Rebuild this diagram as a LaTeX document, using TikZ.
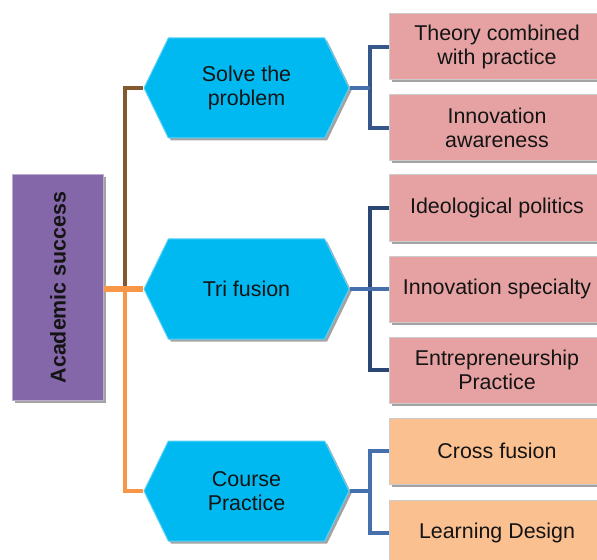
\documentclass[tikz,border=0pt]{standalone}
\usepackage{fontspec}
\setmainfont{Liberation Sans}
\usepackage{tikz}
\usetikzlibrary{positioning, calc, shapes.symbols, shadows}
\definecolor{RootPurple}{HTML}{8467A8}
\definecolor{HexCyan}{HTML}{00B9F1}
\definecolor{PinkBox}{HTML}{E6A2A2}
\definecolor{PeachBox}{HTML}{FAC090}
\definecolor{SpineOrange}{HTML}{F79646}
\definecolor{SpineBrown}{HTML}{84582E}
\definecolor{ForkBlue}{HTML}{4570AC}
\definecolor{ForkNavy}{HTML}{2C4674}

\begin{document}
\begin{tikzpicture}[
      x=1bp, y=-1bp,
      txt/.style={font=\fontsize{21.5}{24.5}\selectfont, align=center, text=black!92},
      bevel/.style={drop shadow={shadow xshift=2.5bp, shadow yshift=-2.5bp, fill=black!60, opacity=.6}},
      rootbox/.style={txt, bevel, rectangle, fill=RootPurple, draw=RootPurple!55!white, line width=1bp,
        minimum width=90bp, minimum height=225bp, inner sep=0pt, font=\fontsize{21.5}{24.5}\selectfont\bfseries},
      hexbox/.style={txt, bevel, shape=signal, signal to=west and east, signal pointer angle=128,
        fill=HexCyan, draw=HexCyan!65!white, line width=1bp, minimum width=205bp, minimum height=100bp, inner sep=0pt},
      leaf/.style={txt, bevel, rectangle, draw=white!80!black, line width=1bp,
        minimum width=216bp, minimum height=66bp, inner sep=0pt},
      pink/.style={leaf, fill=PinkBox},
      peach/.style={leaf, fill=PeachBox},
      fork/.style={ForkBlue, line width=3.5bp},
      spine/.style={SpineOrange, line width=3.5bp}
  ]
    \useasboundingbox (0,0) rectangle (597,560);
    \clip (0,0) rectangle (597,560);

    \node[rootbox](root) at (58,287.5){\rotatebox{90}{Academic success}};

    \node[hexbox](solve) at (246.5,88){Solve the\\problem};
    \node[hexbox](tri) at (246.5,289){Tri fusion};
    \node[hexbox](course) at (246.5,491){Course\\Practice};

    \node[pink](theory) at (497,47){Theory combined\\with practice};
    \node[pink](aware) at (497,128){Innovation\\awareness};
    \node[pink](ideo) at (497,208){Ideological politics};
    \node[pink](spec) at (497,289){Innovation specialty};
    \node[pink](entre) at (497,370){Entrepreneurship\\Practice};
    \node[peach](cross) at (497,451){Cross fusion};
    \node[peach](design) at (497,533){Learning Design};

    % left spine
    \coordinate (hub) at (125,289);
    \draw[spine, SpineBrown] (hub) |- (solve.west);
    \draw[spine] (hub) |- (course.west);
    \draw[spine, line width=5.5bp] (root.east |- hub) -- (tri.west);

    % right forks
    \coordinate (split) at (370,0);
    \draw[fork, ForkNavy!60!ForkBlue] (theory.west) -| (split |- aware.west) -- (aware.west);
    \draw[fork] (solve.east) -- (solve.east -| split);
    \draw[fork, ForkNavy] (ideo.west) -| (split |- entre.west) -- (entre.west);
    \draw[fork] (tri.east) -- (spec.west);
    \draw[fork] (cross.west) -| (split |- design.west) -- (design.west);
    \draw[fork] (course.east) -- (course.east -| split);
\end{tikzpicture}
\end{document}
